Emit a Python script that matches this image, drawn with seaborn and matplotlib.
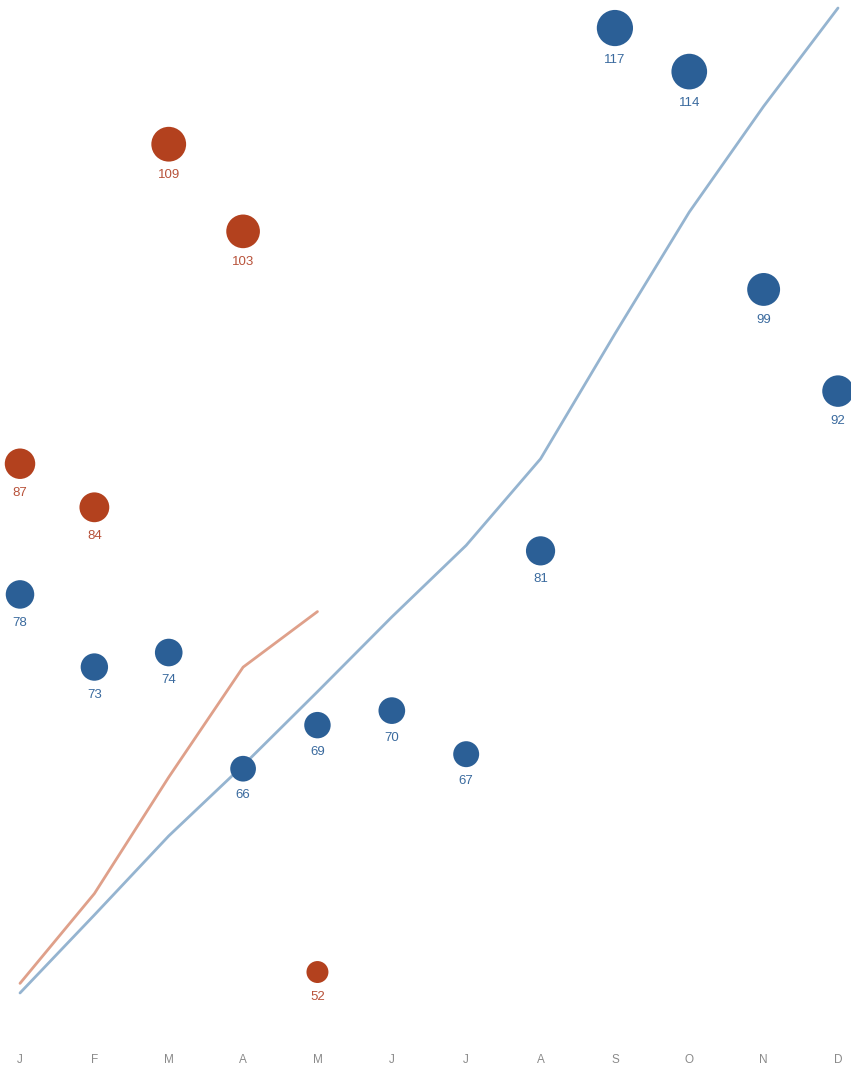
import numpy as np
import pandas as pd
import matplotlib
matplotlib.use("Agg")
import matplotlib.pyplot as plt
import seaborn as sns

months = ["J", "F", "M", "A", "M", "J", "J", "A", "S", "O", "N", "D"]
blue_values = [78, 73, 74, 66, 69, 70, 67, 81, 117, 114, 99, 92]
red_values = [87, 84, 109, 103, 52]

BLUE = "#2b5f96"
RED = "#b3411e"
BLUE_TEXT = "#3a6a9e"
RED_TEXT = "#b8523a"
BLUE_LINE = "#95b4d0"
RED_LINE = "#dfa08a"

sns.set_theme(style="white")
plt.rcParams['font.family'] = ['Liberation Sans', 'DejaVu Sans']

blue_df = pd.DataFrame({"month": np.arange(len(blue_values)), "value": blue_values})
blue_df["cum"] = blue_df["value"].cumsum()
red_df = pd.DataFrame({"month": np.arange(len(red_values)), "value": red_values})
red_df["cum"] = red_df["value"].cumsum()

fig = plt.figure(figsize=(8.51, 10.70), dpi=100)
ax = fig.add_axes([0, 30 / 1070, 1, 1040 / 1070])
ax2 = ax.twinx()

# cumulative lines on secondary axis
sns.lineplot(data=blue_df, x="month", y="cum", color=BLUE_LINE, linewidth=2.0, ax=ax2)
sns.lineplot(data=red_df, x="month", y="cum", color=RED_LINE, linewidth=2.0, ax=ax2)
ax2.set_ylim(33.98, 1007.5)

size_min, size_max = 250, 680
norm = (52, 117)
for df, col in [(blue_df, BLUE), (red_df, RED)]:
    sns.scatterplot(data=df, x="month", y="value", size="value", sizes=(size_min, size_max),
                    size_norm=norm, color=col, edgecolor="none", legend=False, ax=ax,
                    zorder=3)
ax.set_zorder(ax2.get_zorder() + 1)
ax.patch.set_visible(False)
ax.set_ylim(47.32, 118.93)

for df, col in [(blue_df, BLUE_TEXT), (red_df, RED_TEXT)]:
    for m, v in zip(df["month"], df["value"]):
        s = size_min + (v - norm[0]) / (norm[1] - norm[0]) * (size_max - size_min)
        off = np.sqrt(s) / 2 + 10
        ax.annotate(str(v), (m, v), xytext=(0, -off), textcoords="offset points",
                    ha="center", va="center", fontsize=9.5, color=col)

for a in (ax, ax2):
    for sp in a.spines.values():
        sp.set_visible(False)
    a.set_ylabel("")
    a.set_xlabel("")
ax2.set_yticks([])
ax.set_yticks([])
ax.set_xlim(-20 / 74.36, 11 + 13 / 74.36)
ax.set_xticks(range(12))
ax.set_xticklabels(months, fontsize=8.5, color="#8a8a8a")
ax.tick_params(axis="x", length=0, pad=10, labelbottom=True)
ax2.tick_params(axis="x", length=0, labelbottom=False)

fig.savefig("out.png", dpi=100)
